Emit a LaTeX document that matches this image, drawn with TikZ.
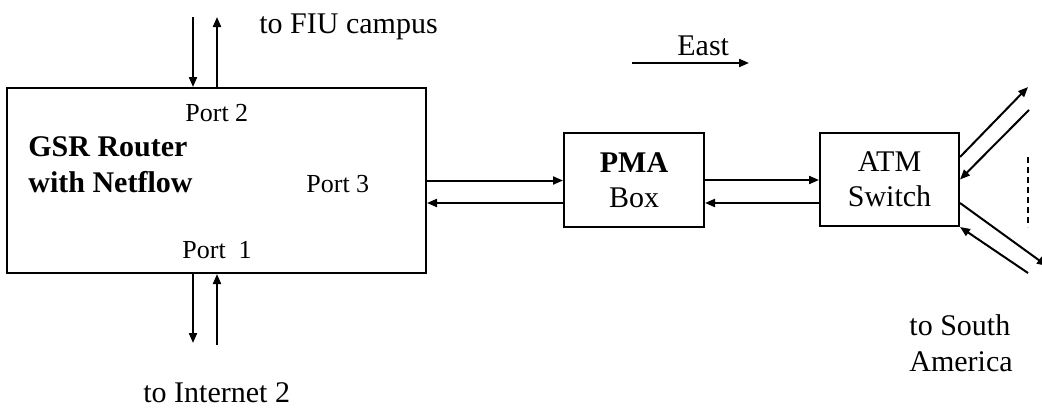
\documentclass[tikz,border=0pt]{standalone}
\usepackage{fontspec}
\setmainfont{Liberation Serif}
\usetikzlibrary{arrows.meta,positioning}

\begin{document}
\begin{tikzpicture}[
  x=0.5pt,y=-0.5pt,
  font=\fontsize{15}{17.5}\selectfont,
  flow/.style={-{Triangle[length=5pt,width=4pt]}, line width=1pt},
  unit/.style={draw, line width=1pt, inner sep=0pt, align=center},
  txt/.style={anchor=base west, inner sep=0pt},
  port/.style={txt, font=\fontsize{13}{15}\selectfont}
]
\useasboundingbox (0,0) rectangle (1042,407);

% Router, monitor box and switch.
\node[unit, minimum width=209.5pt, minimum height=92.5pt]
  (router) at (216.5,180.5) {};
\node[unit, minimum width=70pt, minimum height=47pt]
  (pma) at (634,180) {\textbf{PMA}\\Box};
\node[unit, minimum width=69.5pt, minimum height=46.5pt]
  (atm) at (889.5,179.5) {ATM\\Switch};

% Texts inside the router.
\node[txt] (gsr) at (28,156) {\textbf{GSR Router}};
\node[txt] (netflow) at (28,192) {\textbf{with Netflow}};
\node[port] (port2) at (185,121) {Port 2};
\node[port] (port3) at (306,192) {Port 3};
\node[port] (port1) at (182,258) {Port\ \ 1};

% Outer destinations.
\node[txt] (fiu) at (259,33) {to FIU campus};
\node[txt] (inet) at (143,402) {to Internet 2};
\node[txt] (south) at (909,335) {to South};
\node[txt] (america) at (909,371) {America};

% Direction hint.
\coordinate (eastfrom) at (632,63);
\coordinate (eastto) at (749,63);
\draw[flow] (eastfrom) -- (eastto);
\node[txt] (east) at (677,55) {East};

% Port 2 up to the campus, Port 1 down to Internet 2.
\coordinate (fiuin) at (193,17);
\coordinate (fiuout) at (217,17);
\draw[flow] (fiuin) -- (fiuin |- router.north);
\draw[flow] (fiuout |- router.north) -- (fiuout);

\coordinate (inetout) at (193,343);
\coordinate (inetin) at (217,345);
\draw[flow] (inetout |- router.south) -- (inetout);
\draw[flow] (inetin) -- (inetin |- router.south);

% Port 3 through the PMA box to the switch, both ways.
\coordinate (back) at (0,203);
\draw[flow] (router.east) -- (router.east -| pma.west);
\draw[flow] (back -| pma.west) -- (back -| router.east);
\draw[flow] (pma.east) -- (pma.east -| atm.west);
\draw[flow] (back -| atm.west) -- (back -| pma.east);

% Links fanning out of the switch.
\coordinate (nout) at (1028,87);
\coordinate (nin) at (1029,110);
\coordinate (sout) at (1047,266);
\coordinate (sin) at (1028,273);
\draw[flow] ([yshift=11.25pt]atm.east) -- (nout);
\draw[flow] (nin) -- (atm.east);
\draw[flow] ([yshift=-11.75pt]atm.east) -- (sout);
\draw[flow] (sin) -- (atm.south east);
\draw[line width=1pt, dash pattern=on 3pt off 2pt] (1028,157) -- (1028,227);

\end{tikzpicture}
\end{document}
